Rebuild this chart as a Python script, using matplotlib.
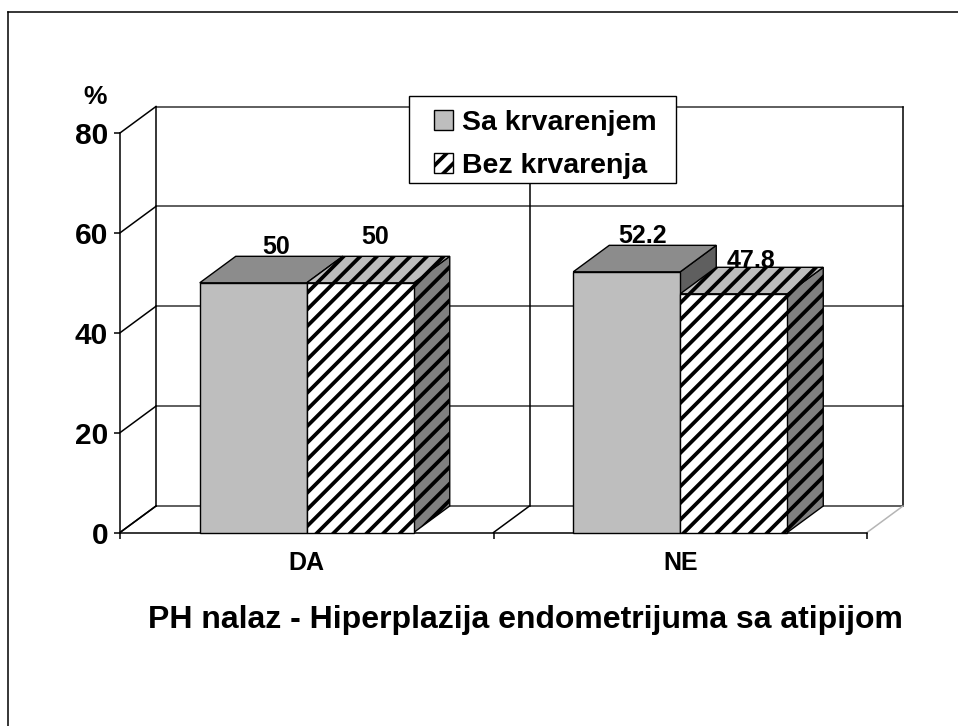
import matplotlib
matplotlib.use("Agg")
import matplotlib.pyplot as plt
from matplotlib.lines import Line2D
from matplotlib.patches import Patch, Rectangle

plt.rcParams['font.family'] = ['Liberation Sans', 'DejaVu Sans']
plt.rcParams['font.weight'] = 'bold'
plt.rcParams['hatch.linewidth'] = 2.7

categories = ['DA', 'NE']
sa_krvarenjem = [50, 52.2]
bez_krvarenja = [50, 47.8]
series_names = ['Sa krvarenjem', 'Bez krvarenja']
y_ticks = [0, 20, 40, 60, 80]
title = 'PH nalaz - Hiperplazija endometrijuma sa atipijom'

W, H = 958, 726
# front plane of the 3d box, in pixels
x0, x1, y0, y1 = 120, 867, 532.5, 133

fig = plt.figure(figsize=(W/100, H/100), dpi=100)
ax = fig.add_axes([x0/W, 1-y0/H, (x1-x0)/W, (y0-y1)/H])
ax.set_xlim(0, 2)
ax.set_ylim(0, 80)
ax.patch.set_visible(False)

# depth of the box in data units
dx = 36/((x1-x0)/2)
dy = 26.5/((y0-y1)/80)
bar_w = 107/((x1-x0)/2)
grid_c = '#333333'

# back wall, floor and left wall
for v in y_ticks:
    ax.plot([dx, 2+dx], [v+dy, v+dy], color=grid_c, lw=1.1, zorder=1, clip_on=False)
    ax.plot([0, dx], [v, v+dy], color='black', lw=1.1, zorder=1, clip_on=False)
for c in [0, 1, 2]:
    ax.plot([c+dx, c+dx], [dy, 80+dy], color='black', lw=1.1, zorder=1, clip_on=False)
    if c < 2:
        ax.plot([c, c+dx], [0, dy], color='black', lw=1.1, zorder=1, clip_on=False)
ax.plot([2, 2+dx], [0, dy], color='#b5b5b5', lw=1.1, zorder=1, clip_on=False)


def box(left, val, front, top, side, hatch, z):
    r = left+bar_w
    ax.fill([r, r+dx, r+dx, r], [0, dy, val+dy, val], facecolor=side, edgecolor='black',
            hatch=hatch, lw=1, zorder=z, clip_on=False)
    ax.fill([left, left+dx, r+dx, r], [val, val+dy, val+dy, val], facecolor=top, edgecolor='black',
            hatch=hatch, lw=1, zorder=z, clip_on=False)
    ax.fill([left, r, r, left], [0, 0, val, val], facecolor=front, edgecolor='black',
            hatch=hatch, lw=1, zorder=z+0.1, clip_on=False)


# label shift from the middle of the bar's front top edge, in pixels
label_shift = [[(23, 29), (15, 39)], [(16, 29), (17, 26)]]

for i in range(len(categories)):
    c = i+0.5
    # first series goes down first, the hatched one sits in front of its side face
    box(c-bar_w, sa_krvarenjem[i], '#bebebe', '#8c8c8c', '#5f5f5f', None, 3)
    box(c, bez_krvarenja[i], 'white', '#bdbdbd', '#808080', '//', 4)
    for j, v in enumerate([sa_krvarenjem[i], bez_krvarenja[i]]):
        sx, sy = label_shift[i][j]
        ax.annotate(str(v), (c+(j-0.5)*bar_w, v), xytext=(sx*0.72, sy*0.72),
                    textcoords='offset points', ha='center', va='baseline',
                    fontsize=18, fontweight='bold', zorder=6, annotation_clip=False)

for s in ['top', 'right']:
    ax.spines[s].set_visible(False)
ax.spines['left'].set_linewidth(1.1)
ax.spines['bottom'].set_linewidth(1.1)
ax.set_yticks(y_ticks)
ax.set_xticks([0, 1, 2])
ax.set_xticklabels([])
ax.set_xticks([0.5, 1.5], minor=True)
ax.set_xticklabels(categories, minor=True, fontsize=18, fontweight='bold')
ax.tick_params(axis='x', which='minor', length=0, pad=13)
ax.tick_params(axis='x', which='major', length=4.5, width=1.1, direction='out')
ax.tick_params(axis='y', length=4.5, width=1.1, labelsize=21.5, pad=4)

fig.text(95/W, 1-97/H, '%', ha='center', va='center', fontsize=19, fontweight='bold')
fig.text(525/W, 1-620/H, title, ha='center', va='center', fontsize=23, fontweight='bold')

# legend box is drawn by hand, the frame of legend() pads all sides the same
fig.add_artist(Rectangle((408.5/W, 1-183/H), 267/W, 87/H, transform=fig.transFigure,
                         facecolor='white', edgecolor='black', lw=1, zorder=9))
handles = [Patch(facecolor='#bebebe', edgecolor='black', lw=1),
           Patch(facecolor='white', edgecolor='black', hatch='//', lw=1)]
leg = fig.legend(handles, series_names, loc='center', bbox_to_anchor=(545/W, 1-144.5/H),
                 fontsize=20.5, frameon=False, handlelength=0.67, handleheight=0.67,
                 handletextpad=0.32, labelspacing=0.6, borderpad=0, borderaxespad=0)
leg.set_zorder(10)

# page border, top and left only
fig.add_artist(Line2D([8/W, 8/W], [0, 1-11.5/H], color='black', lw=1.1))
fig.add_artist(Line2D([8/W, 1], [1-11.5/H, 1-11.5/H], color='black', lw=1.1))

fig.savefig('out.png', dpi=100)
